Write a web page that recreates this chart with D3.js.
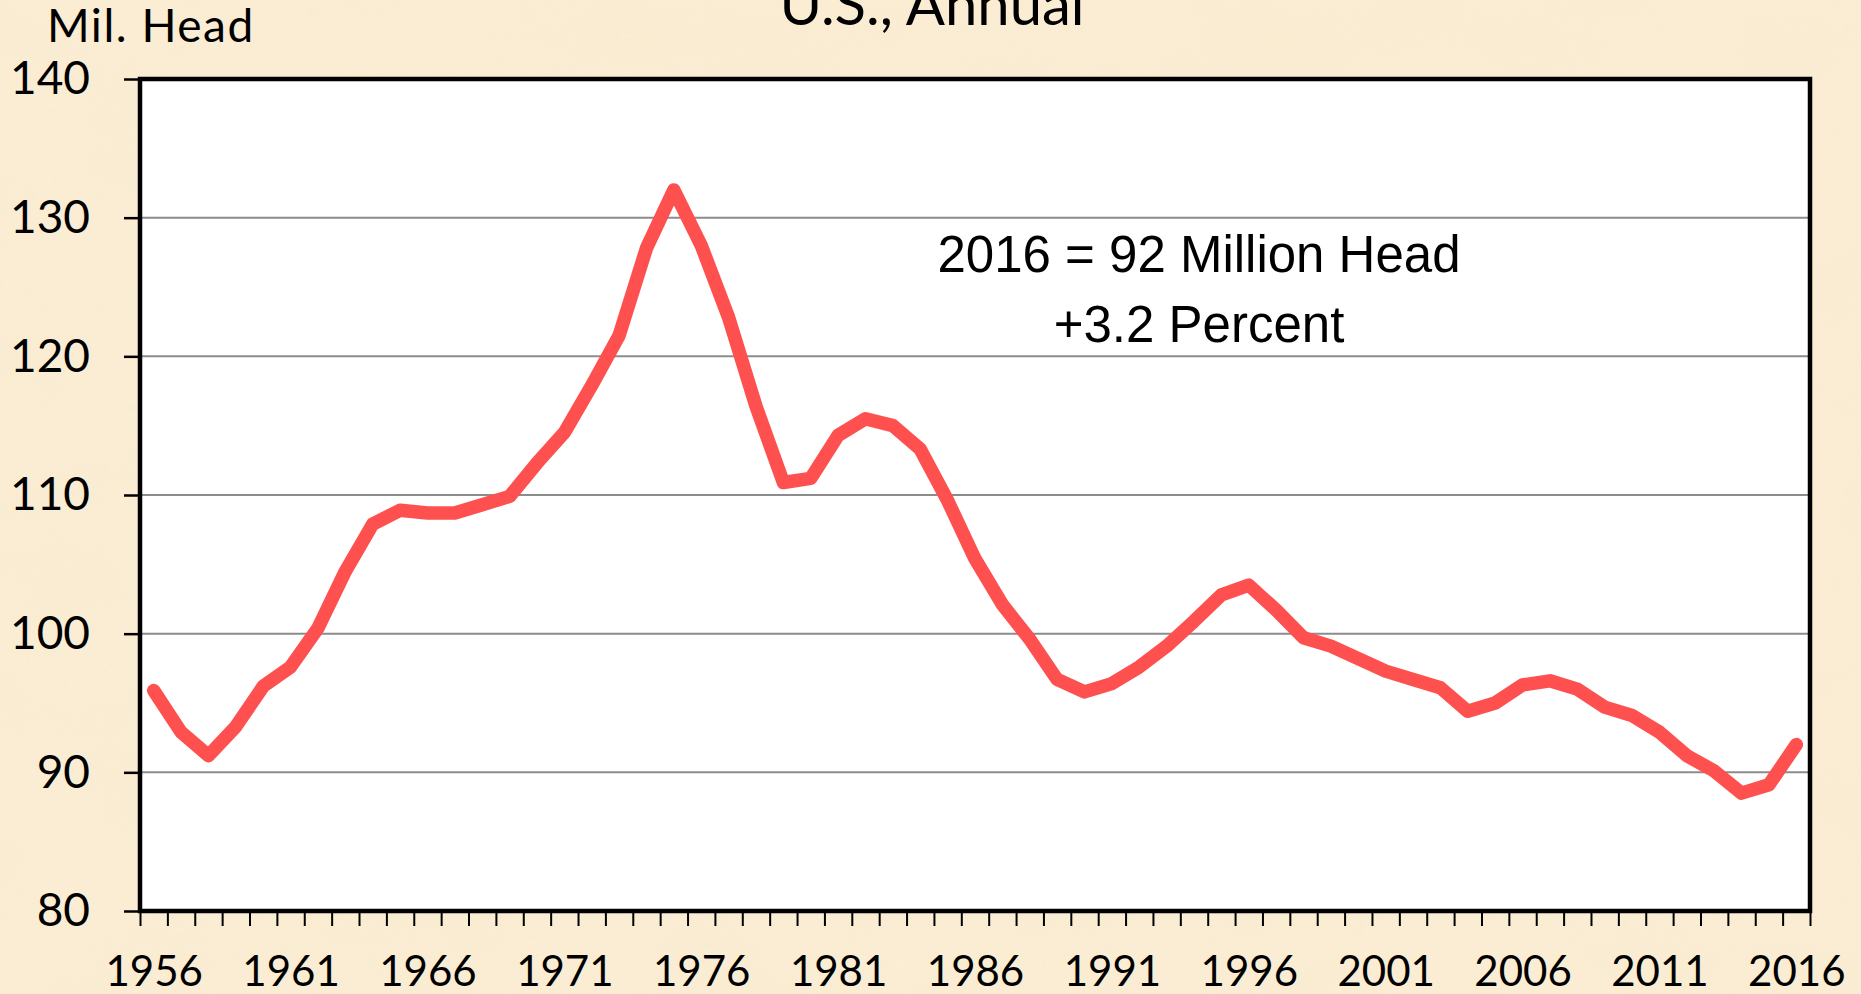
<!DOCTYPE html>
<html>
<head>
<meta charset="utf-8">
<script src="https://cdn.jsdelivr.net/npm/d3@7"></script>
<style>
  html, body { margin: 0; padding: 0; overflow: hidden; }
  svg { display: block; }
</style>
</head>
<body>
<svg id="chart" width="1861" height="994"></svg>
<script>
// categories: Jan 1 inventory years
var years = d3.range(1956, 2017);

// cattle and calves inventory, million head
var inventory = [
  95.9, 92.9, 91.2, 93.3, 96.2, 97.6, 100.4, 104.5, 107.9, 108.9,
  108.7, 108.7, 109.3, 109.9, 112.3, 114.5, 117.9, 121.5, 127.8, 132.0,
  128.0, 122.8, 116.4, 110.9, 111.2, 114.3, 115.5, 115.0, 113.3, 109.6,
  105.4, 102.1, 99.6, 96.7, 95.8, 96.4, 97.6, 99.1, 100.9, 102.8,
  103.5, 101.7, 99.7, 99.1, 98.2, 97.3, 96.7, 96.1, 94.4, 95.0,
  96.3, 96.6, 96.0, 94.7, 94.1, 92.9, 91.2, 90.1, 88.5, 89.1,
  92.0
];

var yTicks = [80, 90, 100, 110, 120, 130, 140];
var xLabels = [1956, 1961, 1966, 1971, 1976, 1981, 1986, 1991, 1996, 2001, 2006, 2011, 2016];

var titleText = 'U.S., Annual';
var unitText = 'Mil. Head';
var noteLines = ['2016 = 92 Million Head', '+3.2 Percent'];

var W = 1861, H = 994;
var plot = { left: 140, right: 1810, top: 79, bottom: 911 };

var svg = d3.select('#chart');
var defs = svg.append('defs');

// parchment background
var f = defs.append('filter').attr('id', 'paper')
  .attr('x', 0).attr('y', 0).attr('width', '100%').attr('height', '100%');
f.append('feTurbulence').attr('type', 'fractalNoise')
  .attr('baseFrequency', '0.006 0.012').attr('numOctaves', 4).attr('seed', 7).attr('result', 'n');
f.append('feColorMatrix').attr('in', 'n').attr('type', 'matrix')
  .attr('values', '0 0 0 0 0.93  0 0 0 0 0.82  0 0 0 0 0.62  0 0 0 -1.2 0.72');

svg.append('rect').attr('width', W).attr('height', H).attr('fill', '#faedd3');
svg.append('rect').attr('width', W).attr('height', H).attr('filter', 'url(#paper)').attr('opacity', 0.6);

var x = d3.scaleLinear().domain([1955.5, 2016.5]).range([plot.left, plot.right]);
var y = d3.scaleLinear().domain([80, 140]).range([plot.bottom, plot.top]);

// plot area
svg.append('rect')
  .attr('x', plot.left).attr('y', plot.top)
  .attr('width', plot.right - plot.left).attr('height', plot.bottom - plot.top)
  .attr('fill', '#fff');

// gridlines
svg.append('g')
  .selectAll('line')
  .data(yTicks.filter(function(d) { return d > 80 && d < 140; }))
  .enter().append('line')
  .attr('x1', plot.left).attr('x2', plot.right)
  .attr('y1', function(d) { return y(d); })
  .attr('y2', function(d) { return y(d); })
  .attr('stroke', '#8c8c8c').attr('stroke-width', 2);

// y axis
var yAxis = svg.append('g')
  .attr('transform', 'translate(' + plot.left + ',0)')
  .call(d3.axisLeft(y).tickValues(yTicks).tickSize(16).tickPadding(34));
yAxis.select('.domain').remove();
yAxis.selectAll('.tick line').attr('stroke', '#000').attr('stroke-width', 2.5);
yAxis.selectAll('.tick text')
  .attr('font-family', 'Lato, sans-serif').attr('font-size', 46).attr('fill', '#000');

// x axis: ticks on category boundaries, labels on every fifth year
var xTickAxis = svg.append('g')
  .attr('transform', 'translate(0,' + plot.bottom + ')')
  .call(d3.axisBottom(x).tickValues(d3.range(1955.5, 2017, 1)).tickSize(15).tickFormat(''));
xTickAxis.select('.domain').remove();
xTickAxis.selectAll('.tick line').attr('stroke', '#000').attr('stroke-width', 2);

var xLabelAxis = svg.append('g')
  .attr('transform', 'translate(0,' + plot.bottom + ')')
  .call(d3.axisBottom(x).tickValues(xLabels).tickSize(0).tickPadding(45).tickFormat(d3.format('d')));
xLabelAxis.select('.domain').remove();
xLabelAxis.selectAll('.tick text')
  .attr('font-family', 'Lato, sans-serif').attr('font-size', 42).attr('fill', '#000');

// frame
svg.append('rect')
  .attr('x', plot.left).attr('y', plot.top)
  .attr('width', plot.right - plot.left).attr('height', plot.bottom - plot.top)
  .attr('fill', 'none').attr('stroke', '#000').attr('stroke-width', 4.5);

// series
var line = d3.line()
  .x(function(d, i) { return x(years[i]); })
  .y(function(d) { return y(d); });

svg.append('path')
  .datum(inventory)
  .attr('d', line)
  .attr('fill', 'none')
  .attr('stroke', '#ff5050')
  .attr('stroke-width', 13.5)
  .attr('stroke-linejoin', 'round')
  .attr('stroke-linecap', 'round');

// annotation
svg.append('g').selectAll('text')
  .data(noteLines)
  .enter().append('text')
  .attr('x', 1199)
  .attr('y', function(d, i) { return 272 + i * 70; })
  .attr('text-anchor', 'middle')
  .attr('font-family', '"Liberation Sans", Arial, sans-serif')
  .attr('font-size', 51)
  .attr('fill', '#000')
  .text(function(d) { return d; });

// titles
svg.append('text')
  .attr('x', 932).attr('y', 25)
  .attr('text-anchor', 'middle')
  .attr('font-family', 'Lato, sans-serif').attr('font-size', 58)
  .attr('fill', '#000')
  .text(titleText);

svg.append('text')
  .attr('x', 47).attr('y', 42)
  .attr('font-family', 'Lato, sans-serif').attr('font-size', 46)
  .attr('letter-spacing', 1.5)
  .attr('fill', '#000')
  .text(unitText);
</script>
</body>
</html>
